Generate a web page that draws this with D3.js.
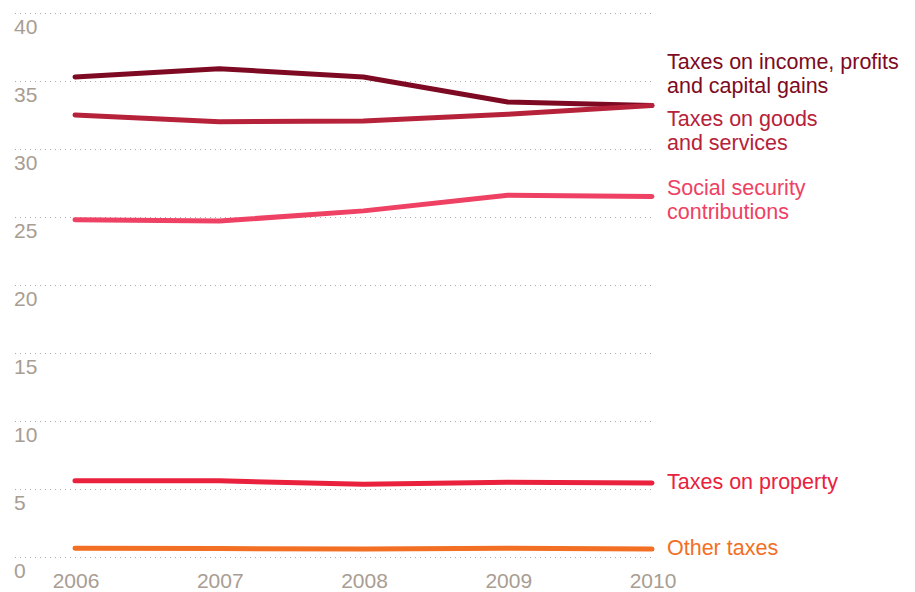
<!DOCTYPE html>
<html>
<head>
<meta charset="utf-8">
<script src="https://cdn.jsdelivr.net/npm/d3@7"></script>
<style>
  body { margin: 0; background: #fff; }
  text { font-family: "Liberation Sans", Arial, sans-serif; }
</style>
</head>
<body>
<script>
let width = 915, height = 592

// data (% of total tax revenue)
let years = [2006, 2007, 2008, 2009, 2010]
let income = [35.3, 35.9, 35.3, 33.45, 33.2]
let goods = [32.5, 32.0, 32.06, 32.55, 33.2]
let social = [24.8, 24.7, 25.45, 26.6, 26.5]
let property = [5.6, 5.6, 5.35, 5.5, 5.45]
let other = [0.65, 0.62, 0.58, 0.65, 0.58]
let yTicks = [0, 5, 10, 15, 20, 25, 30, 35, 40]

let series = [
  {name: ['Taxes on income, profits', 'and capital gains'], values: income, color: '#7d0a22', dy: -36},
  {name: ['Taxes on goods', 'and services'], values: goods, color: '#b6223a', dy: 21},
  {name: ['Social security', 'contributions'], values: social, color: '#ee4163', dy: -2},
  {name: ['Taxes on property'], values: property, color: '#e9213d', dy: 6},
  {name: ['Other taxes'], values: other, color: '#f26f24', dy: 6}
]

let svg = d3.select('body').append('svg')
    .attr('width', width)
    .attr('height', height)

let x = d3.scaleLinear().domain([2006, 2010]).range([75, 652])
let y = d3.scaleLinear().domain([0, 40]).range([557, 13])

// dotted gridlines
svg.append('g').selectAll('line')
    .data(yTicks)
    .enter().append('line')
    .attr('x1', 15).attr('x2', 655)
    .attr('y1', d => y(d) + 0.5).attr('y2', d => y(d) + 0.5)
    .attr('stroke', '#b0aaa4')
    .attr('stroke-width', 1.2)
    .attr('stroke-dasharray', '1,4')

svg.append('g').selectAll('text')
    .data(yTicks)
    .enter().append('text')
    .attr('x', 14)
    .attr('y', d => y(d) + 21)
    .attr('fill', '#a89d92')
    .attr('font-size', 21)
    .text(d => d)

svg.append('g').selectAll('text')
    .data(years)
    .enter().append('text')
    .attr('x', d => x(d) + 1)
    .attr('y', 588)
    .attr('text-anchor', 'middle')
    .attr('fill', '#a89d92')
    .attr('font-size', 21)
    .text(d => d)

let line = d3.line()
    .x((d, i) => x(years[i]))
    .y(d => y(d))

svg.append('g').selectAll('path')
    .data(series)
    .enter().append('path')
    .attr('d', d => line(d.values))
    .attr('fill', 'none')
    .attr('stroke', d => d.color)
    .attr('stroke-width', 5)
    .attr('stroke-linecap', 'round')
    .attr('stroke-linejoin', 'round')

let labels = svg.append('g').selectAll('text')
    .data(series)
    .enter().append('text')
    .attr('x', 667)
    .attr('y', d => y(d.values[d.values.length - 1]) + d.dy)
    .attr('fill', d => d.color)
    .attr('font-size', 21.5)

labels.selectAll('tspan')
    .data(d => d.name)
    .enter().append('tspan')
    .attr('x', 667)
    .attr('dy', (d, i) => i ? 24 : 0)
    .text(d => d)
</script>
</body>
</html>
